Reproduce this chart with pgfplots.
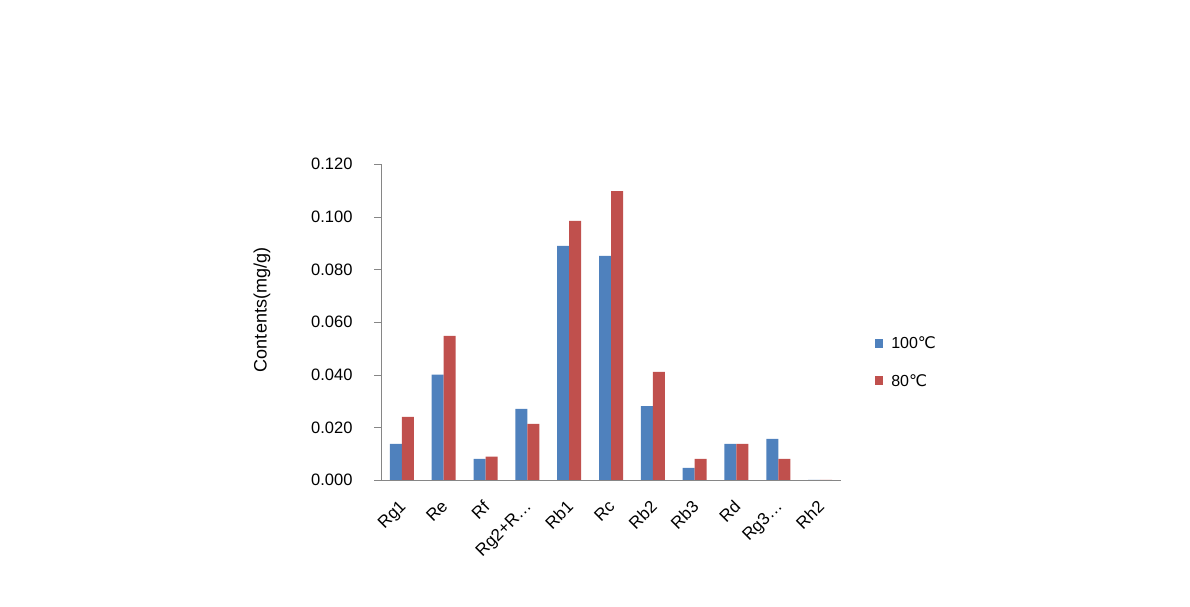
\documentclass[border=0pt]{standalone}
\usepackage{pgfplots}
\pgfplotsset{compat=1.18}
\usepackage{fontspec}
\setmainfont{Liberation Sans}
\newfontfamily\symfont{DejaVu Sans}
\definecolor{exblue}{HTML}{4F81BD}
\definecolor{exred}{HTML}{C0504D}
\definecolor{axgray}{HTML}{868686}
\begin{document}
\begin{tikzpicture}
\path[use as bounding box] (0,0) rectangle (1190pt,607pt);
\begin{axis}[
  at={(381pt,127pt)}, anchor=south west,
  scale only axis, width=460pt, height=316pt,
  ybar=0pt, bar width=12pt,
  xmin=-0.5, xmax=10.5, ymin=0, ymax=0.12,
  axis x line=bottom, axis y line=left,
  axis line style={axgray, -},
  xtick={0,...,10},
  xticklabels={Rg1,Re,Rf,Rg2+R…,Rb1,Rc,Rb2,Rb3,Rd,Rg3…,Rh2},
  x tick style={draw=none},
  extra x ticks={-0.5,0.5,...,10.5},
  extra x tick labels={},
  extra x tick style={tick style={axgray, draw=axgray}, major tick length=7pt, tick align=outside},
  xticklabel style={rotate=45, anchor=north east, inner sep=0pt, font=\fontsize{17}{19}\selectfont, yshift=-6pt, xshift=-11pt},
  ytick={0,0.02,0.04,0.06,0.08,0.10,0.12},
  y tick style={axgray},
  major tick length=7pt, tick align=outside,
  yticklabel style={font=\fontsize{16.5}{18}\selectfont, xshift=-18pt,
    /pgf/number format/.cd, fixed, fixed zerofill, precision=3, assume math mode=true},
  scaled y ticks=false,
  ylabel={Contents(mg/g)},
  ylabel style={at={(axis description cs:-0.2587,0.538)}, anchor=center, font=\fontsize{18}{20}\selectfont},
  legend style={draw=none, at={(axis description cs:1.074,0.46)}, anchor=north west,
    font=\fontsize{16}{18}\selectfont, row sep=20pt, inner sep=0pt,
    nodes={inner xsep=8pt}},
  legend cell align=left,
  legend image code/.code={\fill[#1] (0pt,-4.5pt) rectangle (8pt,4.5pt);},
]
\addplot[fill=exblue, draw=none] coordinates {
 (0,0.0137) (1,0.0400) (2,0.0080) (3,0.0270) (4,0.0889) (5,0.0851) (6,0.0281) (7,0.0046) (8,0.0137) (9,0.0156) (10,0)};
\addplot[fill=exred, draw=none] coordinates {
 (0,0.0240) (1,0.0547) (2,0.0089) (3,0.0213) (4,0.0984) (5,0.1097) (6,0.0411) (7,0.0080) (8,0.0137) (9,0.0080) (10,0)};
\legend{100{\symfont ℃},80{\symfont ℃}}
\end{axis}
\end{tikzpicture}
\end{document}
